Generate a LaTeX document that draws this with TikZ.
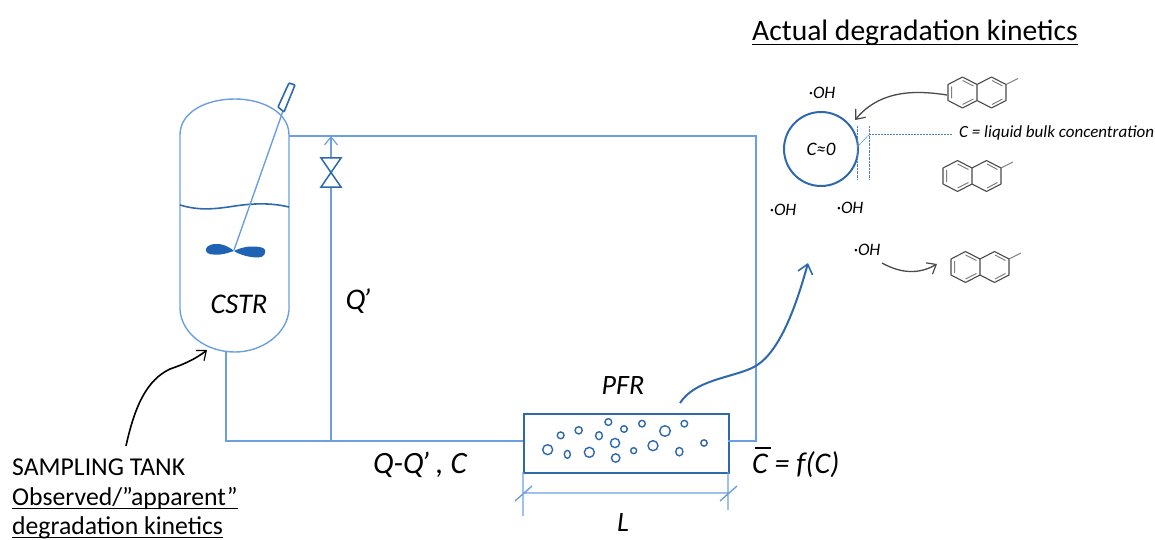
\documentclass[tikz,border=0pt]{standalone}
\usepackage{fontspec}
\setmainfont{Carlito}
\usetikzlibrary{arrows.meta}
\definecolor{pipe}{HTML}{6C9FE0}
\definecolor{dblue}{HTML}{2E69AE}
\definecolor{imp}{HTML}{1F62B4}
\definecolor{mol}{HTML}{4A4A4A}
\newcommand{\myul}[1]{\setbox0=\hbox{#1}\rlap{\rule[-4pt]{\wd0}{1.3pt}}\box0 }
\newcommand{\naph}[2]{%
\begin{scope}[shift={(#1,#2)},line join=round]
\draw[draw=mol,line width=1.1pt] (0,-8)--(0,8)--(-14.5,15.5)--(-29,8)--(-29,-8)--(-14.5,-15.5)--cycle;
\draw[draw=mol,line width=1.1pt] (0,8)--(14.5,15.5)--(29,8)--(29,-8)--(14.5,-15.5)--(0,-8);
\draw[draw=gray,line width=1pt] (29,-8)--(41,-14);
\draw[draw=gray,line width=1pt] (15,-12)--(25.5,-6.5) (15,12)--(25.5,6.5) (-25.5,-6)--(-25.5,6) (-14.5,-12)--(-3.5,-6.5) (-14.5,12)--(-3.5,6.5);
\end{scope}}
\tikzset{
  pipeline/.style={draw=pipe,line width=1.4pt},
  darkline/.style={draw=dblue,line width=1.6pt},
  bubble/.style={draw=dblue,line width=1.4pt},
  txt/.style={inner sep=0pt,font=\fontsize{#1}{#1}\selectfont,text=black},
  itxt/.style={inner sep=0pt,font=\fontsize{#1}{#1}\selectfont\itshape,text=black},
  barb/.style={-{Straight Barb[length=8pt,width=13pt,line width=1.2pt]}},
}
\begin{document}
\begin{tikzpicture}[x=1pt,y=-1pt]
\useasboundingbox (0,0) rectangle (1155,540);
% named points
\coordinate (tankT) at (289,136);
\coordinate (tankB) at (226,351);
\coordinate (corner1) at (756,136);
\coordinate (corner2) at (756,441);
\coordinate (elbow) at (226,441);
\coordinate (tee) at (331,441);
\coordinate (teeT) at (331,136);
\node[draw=dblue,line width=1.8pt,minimum width=205pt,minimum height=59pt,inner sep=0pt,anchor=north west] (pfr) at (523,413) {};
\coordinate (pfrL) at (523,441);
\coordinate (pfrR) at (728,441);
% tank
\draw[pipeline] (180,310) -- (180,135) .. controls (180,112) and (206,99) .. (235,99) .. controls (262,99) and (289,112) .. (289,135) -- (289,310) .. controls (287,334) and (262,352) .. (235,352) .. controls (206,352) and (182,334) .. (180,310) -- cycle;
% liquid
\draw[draw=dblue,line width=1.6pt] (180,205) .. controls (200,211) and (215,209) .. (235,206) .. controls (255,203) and (272,203) .. (289,207);
% shaft, motor, impeller
\coordinate (shaftA) at (234,250);
\coordinate (shaftB) at (283,111);
\draw[pipeline] (shaftA) -- (shaftB);
\draw[darkline,rounded corners=.8pt] (278,107) -- (284,112) -- (295,85) -- (289,83) -- cycle;
\fill[imp] (234,251) .. controls (228,246) and (222,243.5) .. (215,244) .. controls (208,244.5) and (205,248) .. (206,251) .. controls (207,254.5) and (213,255) .. (220,254.5) .. controls (226,254) and (230,252) .. (234,251) .. controls (240,255) and (250,257.5) .. (258,257.5) .. controls (264,257.5) and (266,253) .. (265,250) .. controls (264,247) and (258,246.5) .. (252,246.5) .. controls (244,246.5) and (238,249) .. (234,251) -- cycle;
% piping
\draw[pipeline] (tankT) -- (corner1) -- (corner2) -- (pfrR);
\draw[pipeline] (tankB) -- (elbow) -- (pfrL);
\draw[pipeline] (tee) -- (teeT);
\draw[pipeline,barb] (331,150) -- (teeT);
% valve
\fill[white] (321,158) rectangle (341,187);
\draw[draw=dblue,line width=1.5pt,line join=miter] (321,158) -- (341,158) -- (321,187) -- (341,187) -- cycle;
% bubbles
\foreach \x/\y/\a/\b in {143/239/5/5,182/196/3.4/3.4,236/181/3.6/3.6,202/253/3/4,268/247/5/5,297/197/3.4/4,325/156/3.4/3.4,345/219/4.6/4.6,347/264/4.2/4.2,372/177/3.3/3.3,401/242/3/3,426/161/3.3/3.3,459/227/5/5,495/183/5.3/5.3,538/245/3.6/4.2,553/161/3.3/3.3,612/219/3.2/3.2}
  \draw[bubble] ({500+\x/3},{370+\y/3}) ellipse [x radius=\a,y radius=\b];
% dimension
\coordinate (dimA) at (523,493);
\coordinate (dimB) at (728,493);
\draw[pipeline] (523,472) -- (523,516) (728,472) -- (728,510) (dimA) -- (dimB) (515,501) -- (532,486) (720,501) -- (737,486);
% reactor particle
\node[circle,draw=dblue,line width=2pt,minimum size=74pt,inner sep=0pt] (part) at (821,149) {};
\draw[draw=dblue!85,line width=1pt,dash pattern=on 2.5pt off 1pt] (857,126) -- (857,179) (869,126) -- (869,179);
\draw[draw=pipe,line width=1pt,dash pattern=on 2pt off 1pt] (857,147) -- (869,135);
\draw[draw=dblue!85,line width=1pt,dash pattern=on 2pt off 1pt] (869,135) -- (953,135);
% molecules
\naph{977}{92.5}
\naph{972}{176}
\naph{980}{267}
% arrows
\coordinate (mA) at (947,95);
\coordinate (mB) at (855,120);
\draw[draw=mol,line width=1.3pt,barb] (mA) .. controls (915,90) and (880,90) .. (mB);
\coordinate (oA) at (882,263);
\coordinate (oB) at (937,264);
\draw[draw=mol,line width=1.3pt,barb] (oA) .. controls (900,273) and (918,275) .. (oB);
\coordinate (sA) at (126,446);
\coordinate (sB) at (207,350);
\draw[draw=black,line width=1.6pt,barb] (sA) .. controls (135,405) and (147,380) .. (170,369) .. controls (185,364) and (197,358) .. (sB);
\coordinate (pA) at (680,403);
\coordinate (pB) at (808,263);
\draw[draw=dblue,line width=2pt,-{Straight Barb[length=9pt,width=15pt,line width=1.6pt]}] (pA) .. controls (695,380) and (730,378) .. (752,368) .. controls (778,356) and (795,310) .. (pB);
% text
\node[txt=29.6,anchor=base] (t1) at (915,41) {\myul{Actual degradation kinetics}};
\node[itxt=28.5] (t2) at (239,304) {CSTR};
\node[itxt=30] (t3) at (358,301) {Q\kern-2.5pt’};
\node[itxt=28] (t4) at (623,386) {PFR};
\node[itxt=28] (t5) at (623,523) {L};
\node[itxt=31,anchor=base] (t6) at (420,473) {Q-Q\kern-2.5pt’ , C};
\node[itxt=30,anchor=base west] (t7) at (752,473) {\setbox0=\hbox{C}\rlap{\kern3pt\rule[24pt]{\wd0}{1.6pt}}\box0\ = f(C)};
\node[itxt=19] (t8) at (821,149) {C≈0};
\node[itxt=17,anchor=west] (t9) at (959,133) {C = liquid bulk concentration};
\node[itxt=17.5] (o1) at (822,93) {·OH};
\node[itxt=17.5] (o2) at (783,210) {·OH};
\node[itxt=17.5] (o3) at (850,208) {·OH};
\node[itxt=17.5] (o4) at (867,250) {·OH};
\node[txt=25.7,anchor=base west] (s1) at (12,475) {SAMPLING TANK};
\node[txt=25.7,anchor=base west] (s2) at (12,505) {\myul{Observed/”apparent”}};
\node[txt=25.7,anchor=base west] (s3) at (12,534) {\myul{degradation kinetics}};
\end{tikzpicture}
\end{document}
